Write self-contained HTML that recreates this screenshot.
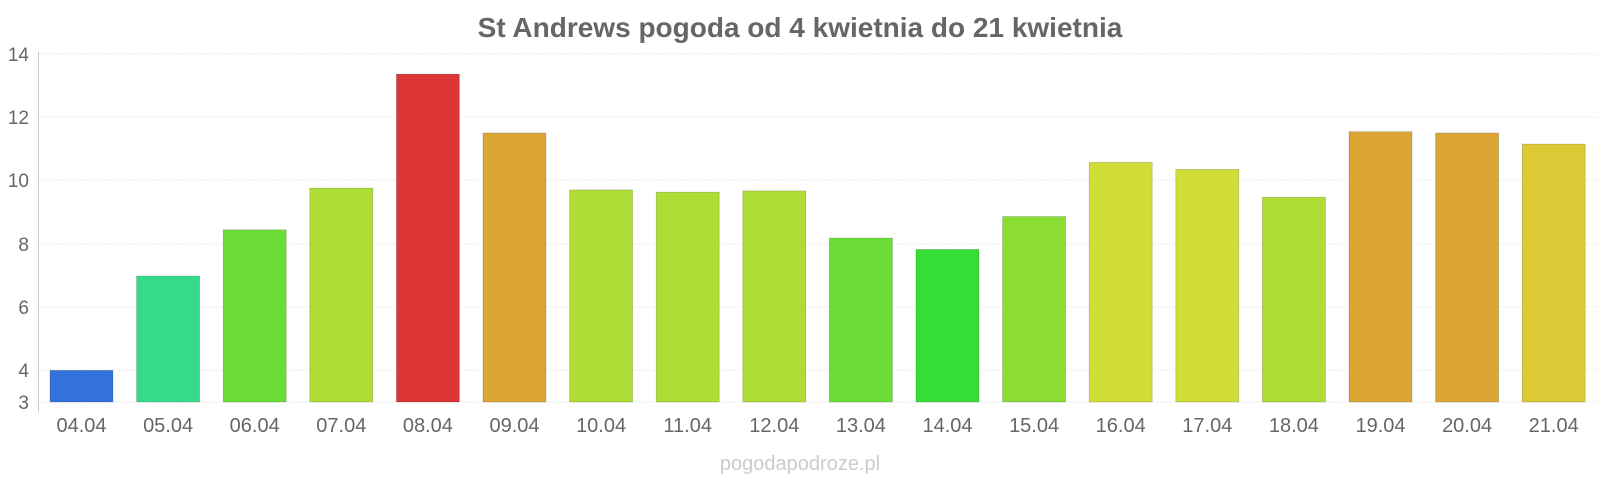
<!DOCTYPE html>
<html><head><meta charset="utf-8"><style>body{margin:0;background:#fff}</style></head><body>
<svg width="1600" height="480" xmlns="http://www.w3.org/2000/svg" font-family="Liberation Sans, sans-serif">
<text x="800" y="37" text-anchor="middle" font-size="28" font-weight="bold" fill="#666">St Andrews pogoda od 4 kwietnia do 21 kwietnia</text>
<g stroke="#eee" stroke-width="1" stroke-dasharray="2,1">
<line x1="38" x2="1597" y1="54" y2="54"/><line x1="38" x2="1597" y1="117" y2="117"/><line x1="38" x2="1597" y1="180" y2="180"/><line x1="38" x2="1597" y1="244" y2="244"/><line x1="38" x2="1597" y1="307" y2="307"/><line x1="38" x2="1597" y1="370" y2="370"/><line x1="38" x2="1597" y1="402" y2="402"/>
</g>
<line x1="38.5" x2="38.5" y1="52" y2="412" stroke="#ccc"/>
<g font-size="19" fill="#666" text-anchor="end">
<text x="29" y="61">14</text><text x="29" y="124">12</text><text x="29" y="187">10</text><text x="29" y="251">8</text><text x="29" y="314">6</text><text x="29" y="377">4</text><text x="29" y="409">3</text>
</g>
<g stroke-opacity="0.25" stroke="#000" stroke-width="0.6">
<rect x="50" y="370.35" width="63" height="31.65" fill="#3373db"/>
<rect x="136.6" y="276.03" width="63" height="125.97" fill="#36db8a"/>
<rect x="223.2" y="229.82" width="63" height="172.18" fill="#6bdd36"/>
<rect x="309.8" y="188.05" width="63" height="213.95" fill="#aedd36"/>
<rect x="396.4" y="74.11" width="63" height="327.89" fill="#dd3636"/>
<rect x="483" y="132.97" width="63" height="269.03" fill="#dca635"/>
<rect x="569.6" y="189.94" width="63" height="212.06" fill="#aedd36"/>
<rect x="656.2" y="192.16" width="63" height="209.84" fill="#aedd36"/>
<rect x="742.8" y="190.89" width="63" height="211.11" fill="#aedd36"/>
<rect x="829.4" y="238.05" width="63" height="163.95" fill="#6bdd36"/>
<rect x="916" y="249.45" width="63" height="152.55" fill="#36dd36"/>
<rect x="1002.6" y="216.53" width="63" height="185.47" fill="#8bdd36"/>
<rect x="1089.2" y="162.41" width="63" height="239.59" fill="#d0dd36"/>
<rect x="1175.8" y="169.37" width="63" height="232.63" fill="#d0dd36"/>
<rect x="1262.4" y="197.22" width="63" height="204.78" fill="#aedd36"/>
<rect x="1349" y="131.71" width="63" height="270.29" fill="#dca635"/>
<rect x="1435.6" y="132.97" width="63" height="269.03" fill="#dca635"/>
<rect x="1522.2" y="144.05" width="63" height="257.95" fill="#dbc935"/>
</g>
<g font-size="20" fill="#666" text-anchor="middle">
<text x="81.5" y="432">04.04</text><text x="168.1" y="432">05.04</text><text x="254.7" y="432">06.04</text><text x="341.3" y="432">07.04</text><text x="427.9" y="432">08.04</text><text x="514.5" y="432">09.04</text><text x="601.1" y="432">10.04</text><text x="687.7" y="432">11.04</text><text x="774.3" y="432">12.04</text><text x="860.9" y="432">13.04</text><text x="947.5" y="432">14.04</text><text x="1034.1" y="432">15.04</text><text x="1120.7" y="432">16.04</text><text x="1207.3" y="432">17.04</text><text x="1293.9" y="432">18.04</text><text x="1380.5" y="432">19.04</text><text x="1467.1" y="432">20.04</text><text x="1553.7" y="432">21.04</text>
</g>
<text x="800" y="470" text-anchor="middle" font-size="20" fill="#ccc">pogodapodroze.pl</text>
</svg>
</body></html>
